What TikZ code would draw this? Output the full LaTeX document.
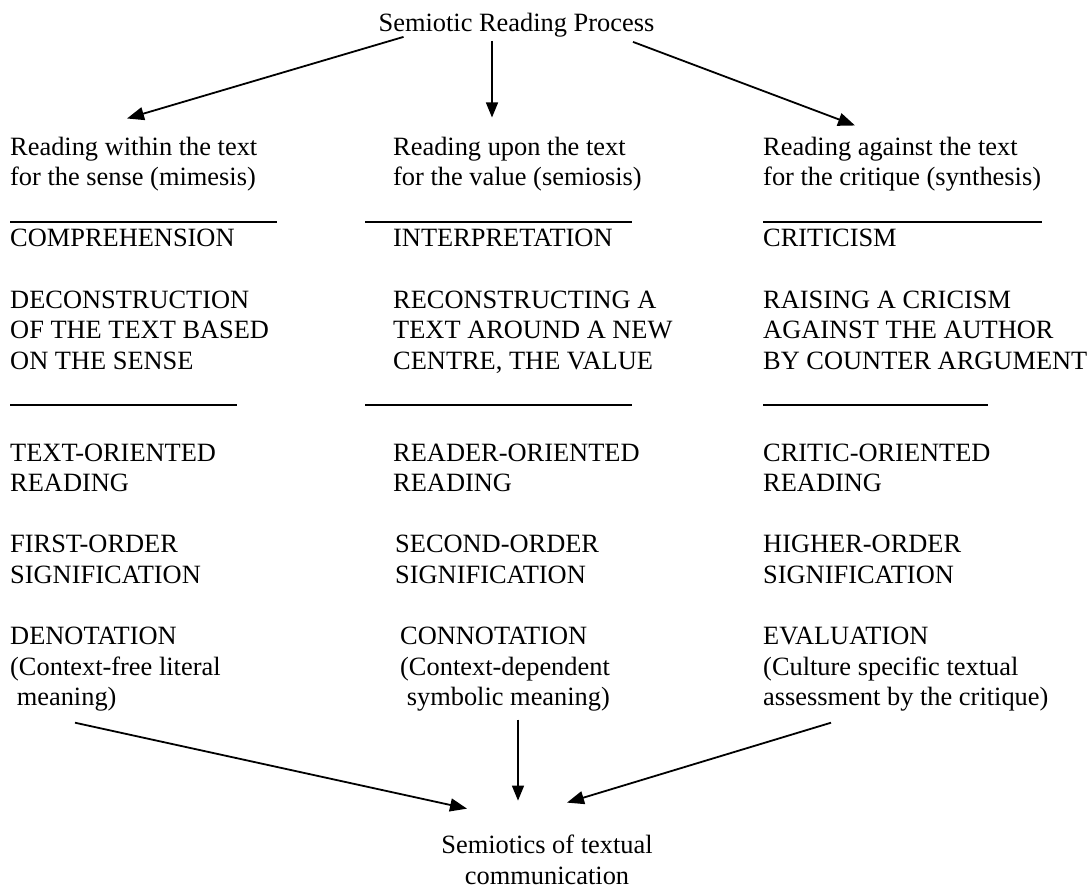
\documentclass[tikz,border=0pt]{standalone}
\usepackage{fontspec}
\setmainfont{Liberation Serif}
\usetikzlibrary{arrows.meta}

\begin{document}
\begin{tikzpicture}[x=1pt,y=-1pt,
  txt/.style={anchor=base west,inner sep=0pt,align=left,font=\fontsize{26.4}{30.6}\selectfont},
  ctxt/.style={txt,anchor=base,align=center},
  arr/.style={line width=1.8pt,-{Triangle[length=17pt,width=13pt]}},
  varr/.style={line width=1.4pt,-{Triangle[length=15pt,width=12pt]}},
  uline/.style={line width=1.3pt}]
\useasboundingbox (0,0) rectangle (1091,892);
% title and the three readings (nodes sit on the baseline of their last line)
\node[ctxt] (top) at (516.5,31) {Semiotic Reading Process};
\node[txt] (sense) at (10,185.6) {Reading within the text\\for the sense (mimesis)};
\node[txt] (value) at (393,185.6) {Reading upon the text\\for the value (semiosis)};
\node[txt] (critique) at (763,185.6) {Reading against the text\\for the critique (synthesis)};
\draw[uline] (10,222) -- (277,222);
\draw[uline] (365,222) -- (632,222);
\draw[uline] (763,222) -- (1042,222);
\node[txt] (comp) at (10,246.8) {COMPREHENSION};
\node[txt] (interp) at (393,246.8) {INTERPRETATION};
\node[txt] (crit) at (763,246.8) {CRITICISM};
\node[txt] (decon) at (10,369.2) {DECONSTRUCTION\\OF THE TEXT BASED\\ON THE SENSE};
\node[txt] (recon) at (393,369.2) {RECONSTRUCTING A\\TEXT AROUND A NEW\\CENTRE, THE VALUE};
\node[txt] (raise) at (763,369.2) {RAISING A CRICISM\\AGAINST THE AUTHOR\\BY COUNTER ARGUMENT};
\draw[uline] (10,405) -- (237,405);
\draw[uline] (365,405) -- (632,405);
\draw[uline] (763,405) -- (988,405);
% kinds of reading
\node[txt] (textor) at (10,491.6) {TEXT-ORIENTED\\READING};
\node[txt] (readeror) at (393,491.6) {READER-ORIENTED\\READING};
\node[txt] (criticor) at (763,491.6) {CRITIC-ORIENTED\\READING};
\node[txt] (first) at (10,583.4) {FIRST-ORDER\\SIGNIFICATION};
\node[txt] (second) at (395,583.4) {SECOND-ORDER\\SIGNIFICATION};
\node[txt] (higher) at (763,583.4) {HIGHER-ORDER\\SIGNIFICATION};
\node[txt] (deno) at (10,705.8) {DENOTATION\\(Context-free literal\\\hspace*{6.6pt}meaning)};
\node[txt] (conno) at (400,705.8) {CONNOTATION\\(Context-dependent\\\hspace*{6.6pt}symbolic meaning)};
\node[txt] (eval) at (763,705.8) {EVALUATION\\(Culture specific textual\\assessment by the critique)};
\node[ctxt] (bottom) at (547,884) {Semiotics of textual\\communication};
% arrows
\draw[arr] ([xshift=-113pt]top.south) -- ([xshift=117pt,yshift=18pt]sense.north west);
\draw[varr] ([xshift=-24.5pt,yshift=-4pt]top.south) -- ([xshift=99pt,yshift=19pt]value.north west);
\draw[arr] ([xshift=116.5pt,yshift=-5pt]top.south) -- ([xshift=92pt,yshift=11pt]critique.north west);
\draw[arr] ([xshift=65pt,yshift=-11pt]deno.south west) -- ([xshift=-80pt,yshift=26pt]bottom.north);
\draw[varr] ([xshift=118pt,yshift=-8pt]conno.south west) -- ([xshift=-29pt,yshift=34pt]bottom.north);
\draw[arr] ([xshift=68pt,yshift=-11pt]eval.south west) -- ([xshift=20pt,yshift=32pt]bottom.north);
\end{tikzpicture}
\end{document}
